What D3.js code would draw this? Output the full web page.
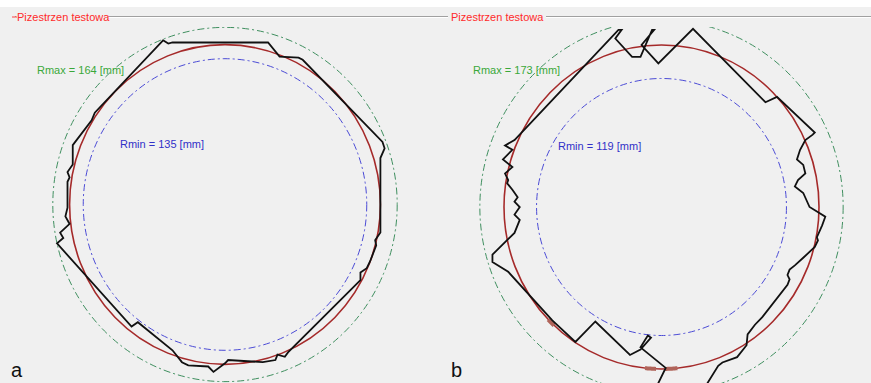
<!DOCTYPE html>
<html>
<head>
<meta charset="utf-8">
<script src="https://cdn.jsdelivr.net/npm/d3@7/dist/d3.min.js"></script>
<style>
  body { margin: 0; background: #f0f0f0; }
  svg { display: block; font-family: "Liberation Sans", Arial, sans-serif; }
</style>
</head>
<body>
<div id="chart"></div>
<script>
// Panel labels and radii in mm
const panelNames = ["a", "b"];
const boxTitle = "Pizestrzen testowa";
const rMax = [164, 173];
const rMin = [135, 119];
const rFit = [148, 150];

// Measured contour, [x, y] in mm relative to the centre (y up)
const contourA = [
    [-59, 152], [-54, 149], [-50, 150], [41, 150], [52, 137], [70, 136], [74, 134],
    [150, 58], [152, 52], [148, 43], [148, -26], [143, -33], [144, -38], [138, -53],
    [135, -59], [129, -63], [129, -70], [60, -137], [57, -141], [50, -139], [48, -144],
    [36, -146], [3, -144], [0, -147], [-11, -155], [-16, -150], [-35, -149], [-41, -146],
    [-50, -135], [-83, -109], [-89, -113], [-160, -36], [-154, -31], [-157, -26],
    [-148, -18], [-152, -11], [-150, -3], [-150, 21], [-148, 25], [-150, 30],
    [-145, 37], [-145, 55], [-127, 78], [-124, 85]
];
const contourB = [
    [-140, 62], [-41, 164], [-38, 164], [-44, 156], [-28, 139], [-20, 139], [-9, 164],
    [-7, 164], [-19, 150], [-3, 133], [30, 165], [99, 97], [110, 102], [146, 69],
    [144, 67], [137, 62], [132, 53], [129, 44], [135, 39], [137, 31], [130, 25],
    [127, 19], [135, 13], [141, 0], [156, -9], [153, -17], [148, -28], [149, -31],
    [146, -37], [135, -47], [127, -54], [122, -58], [120, -63], [122, -67], [120, -72],
    [96, -102], [89, -109], [82, -118], [81, -128], [72, -139], [58, -144], [54, -147],
    [40, -169], [-6, -169], [4, -149], [-20, -130], [-13, -119], [-10, -121],
    [-20, -132], [-30, -137], [-63, -106], [-82, -125], [-104, -105], [-146, -60],
    [-161, -51], [-161, -44], [-140, -24], [-135, -12], [-140, -7], [-135, 0],
    [-140, 5], [-137, 9], [-142, 16], [-147, 22], [-146, 25], [-149, 31], [-142, 37],
    [-151, 44], [-142, 53], [-149, 57]
];
const contours = [contourA, contourB];

// Highlighted arcs on the fitted circle, [start, end] in degrees
const markArcs = [[], [[264, 268.4], [271.3, 276], [224, 227]]];

const width = 871, height = 383;
const centres = [[225, 204.5], [661.5, 207]];
const pxPerMmX = 1.05, pxPerMmY = 1.08;

const svg = d3.select("#chart")
    .append("svg")
    .attr("width", width)
    .attr("height", height);

svg.append("rect")
    .attr("width", width)
    .attr("height", height)
    .attr("fill", "#f0f0f0");

// white strip at the top
svg.append("rect")
    .attr("width", width)
    .attr("height", 7)
    .attr("fill", "#ffffff");

// group box top lines
const boxLines = [[15, 16], [108, 448], [546, 871]];
boxLines.forEach(function(seg) {
    svg.append("line")
        .attr("x1", seg[0]).attr("x2", seg[1])
        .attr("y1", 16.5).attr("y2", 16.5)
        .attr("stroke", "#a0a0a0");
    svg.append("line")
        .attr("x1", seg[0]).attr("x2", seg[1])
        .attr("y1", 17.5).attr("y2", 17.5)
        .attr("stroke", "#ffffff");
});
svg.append("line")
    .attr("x1", 12).attr("x2", 17)
    .attr("y1", 17).attr("y2", 17)
    .attr("stroke", "#ff4040");

[17, 451].forEach(function(x) {
    svg.append("text")
        .attr("x", x)
        .attr("y", 21)
        .attr("font-size", 11)
        .attr("fill", "#ff2a2a")
        .text(boxTitle);
});

svg.append("defs")
    .append("clipPath")
    .attr("id", "plotClip")
    .append("rect")
    .attr("x", 0).attr("y", 27)
    .attr("width", width).attr("height", height - 27);

const line = d3.line().curve(d3.curveLinearClosed);

panelNames.forEach(function(name, i) {
    const [cx, cy] = centres[i];
    const xScale = d3.scaleLinear().domain([0, 100]).range([cx, cx + 100 * pxPerMmX]);
    const yScale = d3.scaleLinear().domain([0, 100]).range([cy, cy - 100 * pxPerMmY]);

    const g = svg.append("g").attr("clip-path", "url(#plotClip)");

    // Rmax circle
    g.append("ellipse")
        .attr("cx", xScale(0)).attr("cy", yScale(0))
        .attr("rx", xScale(rMax[i]) - xScale(0))
        .attr("ry", yScale(0) - yScale(rMax[i]))
        .attr("fill", "none")
        .attr("stroke", "#3f8f5f")
        .attr("stroke-width", 1)
        .attr("stroke-dasharray", "7,3,2,3");

    // Rmin circle
    g.append("ellipse")
        .attr("cx", xScale(0)).attr("cy", yScale(0))
        .attr("rx", xScale(rMin[i]) - xScale(0))
        .attr("ry", yScale(0) - yScale(rMin[i]))
        .attr("fill", "none")
        .attr("stroke", "#4b4bd6")
        .attr("stroke-width", 1)
        .attr("stroke-dasharray", "7,3,2,3");

    // fitted circle
    g.append("ellipse")
        .attr("cx", xScale(0)).attr("cy", yScale(0))
        .attr("rx", xScale(rFit[i]) - xScale(0))
        .attr("ry", yScale(0) - yScale(rFit[i]))
        .attr("fill", "none")
        .attr("stroke", "#a52a2a")
        .attr("stroke-width", 1.6);

    // thick marks on the fitted circle
    const arcLine = d3.line()
        .x(a => xScale(rFit[i] * Math.cos(a * Math.PI / 180)))
        .y(a => yScale(rFit[i] * Math.sin(a * Math.PI / 180)));
    markArcs[i].forEach(function(arc) {
        g.append("path")
            .attr("d", arcLine(d3.range(arc[0], arc[1] + 0.01, 0.5)))
            .attr("fill", "none")
            .attr("stroke", "#b0645a")
            .attr("stroke-width", 4);
    });

    // measured contour
    g.append("path")
        .datum(contours[i])
        .attr("d", line.x(d => xScale(d[0])).y(d => yScale(d[1])))
        .attr("fill", "none")
        .attr("stroke", "#111111")
        .attr("stroke-width", 1.8)
        .attr("stroke-linejoin", "miter");

    // labels
    svg.append("text")
        .attr("x", [37, 473][i])
        .attr("y", 74)
        .attr("font-size", 11)
        .attr("fill", "#3aa83a")
        .text(`Rmax = ${rMax[i]} [mm]`);

    svg.append("text")
        .attr("x", [120, 558][i])
        .attr("y", [148, 150][i])
        .attr("font-size", 11)
        .attr("fill", "#3030c8")
        .text(`Rmin = ${rMin[i]} [mm]`);

    svg.append("text")
        .attr("x", [11, 451][i])
        .attr("y", 377)
        .attr("font-size", 20)
        .attr("fill", "#111111")
        .text(name);
});
</script>
</body>
</html>
